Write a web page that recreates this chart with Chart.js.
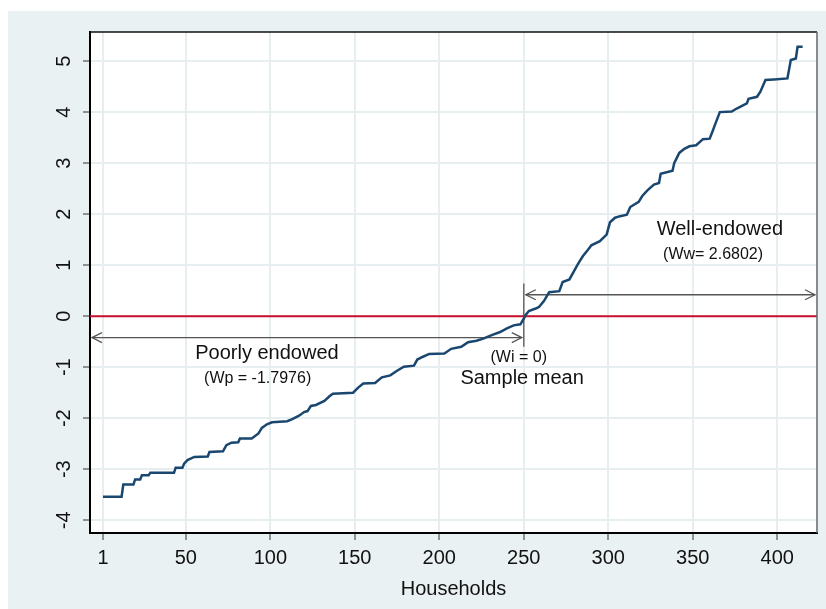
<!DOCTYPE html>
<html>
<head>
<meta charset="utf-8">
<script src="https://cdn.jsdelivr.net/npm/chart.js@4.4.1/dist/chart.umd.min.js"></script>
<style>
    html, body { margin: 0; padding: 0; background: #ffffff; }
    #wrap { width: 826px; height: 609px; }
</style>
</head>
<body>
<div id="wrap"><canvas id="chart" width="826" height="609"></canvas></div>
<script>
// household rank (sorted) and its index value, read at the ends of each plateau
const households = [
    1, 12, 13, 19, 20, 23, 24, 28, 29, 43,
    44, 48, 49, 51, 55, 63, 64, 72, 74, 77,
    81, 82, 89, 93, 95, 98, 101, 110, 113, 117,
    120, 122, 124, 127, 132, 135, 137, 149, 152, 155,
    162, 166, 171, 175, 179, 185, 187, 190, 194, 203,
    207, 213, 217, 222, 226, 231, 236, 240, 244, 248,
    250, 251, 253, 257, 259, 262, 265, 271, 273, 277,
    282, 285, 288, 290, 295, 299, 301, 304, 307, 311,
    313, 318, 320, 323, 327, 330, 331, 338, 339, 342,
    345, 348, 352, 356, 360, 362, 363, 366, 373, 376,
    382, 383, 388, 390, 393, 398, 406, 408, 411, 412,
    415
];
const scores = [
    -3.54, -3.54, -3.30, -3.30, -3.20, -3.20, -3.12, -3.12, -3.07, -3.07,
    -2.97, -2.97, -2.89, -2.82, -2.76, -2.75, -2.66, -2.65, -2.53, -2.48,
    -2.47, -2.40, -2.40, -2.30, -2.19, -2.12, -2.08, -2.06, -2.02, -1.95,
    -1.88, -1.86, -1.76, -1.74, -1.66, -1.57, -1.52, -1.50, -1.40, -1.32,
    -1.31, -1.20, -1.16, -1.07, -0.99, -0.97, -0.85, -0.80, -0.74, -0.73,
    -0.64, -0.60, -0.51, -0.48, -0.44, -0.37, -0.31, -0.24, -0.18, -0.16,
    -0.05, 0.02, 0.10, 0.15, 0.18, 0.30, 0.47, 0.49, 0.67, 0.72,
    1.02, 1.18, 1.30, 1.39, 1.47, 1.60, 1.84, 1.93, 1.96, 1.99,
    2.14, 2.24, 2.35, 2.46, 2.58, 2.61, 2.79, 2.85, 3.00, 3.20,
    3.28, 3.33, 3.35, 3.47, 3.48, 3.65, 3.74, 4.00, 4.01, 4.07,
    4.17, 4.26, 4.30, 4.40, 4.63, 4.64, 4.66, 5.02, 5.05, 5.28,
    5.28
];
const xTicks = [1, 50, 100, 150, 200, 250, 300, 350, 400];
const yTicks = [-4, -3, -2, -1, 0, 1, 2, 3, 4, 5];

const sampleMean = 250;
const notes = [
    { text: 'Poorly endowed', x: 98, y: -0.74, size: 20 },
    { text: '(Wp = -1.7976)', x: 92.5, y: -1.22, size: 16 },
    { text: '(Wi = 0)', x: 247, y: -0.82, size: 16 },
    { text: 'Sample mean', x: 249, y: -1.22, size: 20 },
    { text: 'Well-endowed', x: 366, y: 1.70, size: 20 },
    { text: '(Ww= 2.6802)', x: 362, y: 1.20, size: 16 },
];

const FONT = '"Liberation Sans", Arial, sans-serif';

function arrowHead(ctx, x, y, dir) {
    ctx.beginPath();
    ctx.moveTo(x - dir * 10, y - 5);
    ctx.lineTo(x, y);
    ctx.lineTo(x - dir * 10, y + 5);
    ctx.stroke();
}

const framePlugin = {
    id: 'frame',
    beforeDraw(chart) {
        const { ctx, chartArea: a } = chart;
        ctx.save();
        ctx.fillStyle = '#ffffff';
        ctx.fillRect(0, 0, chart.width, chart.height);
        ctx.fillStyle = '#eaf1f3';
        ctx.fillRect(8, 11, chart.width - 8, chart.height - 11);
        ctx.fillStyle = '#ffffff';
        ctx.fillRect(a.left, a.top, a.right - a.left, a.bottom - a.top);
        ctx.restore();
    },
    beforeDatasetsDraw(chart) {
        const { ctx, chartArea: a, scales: { x, y } } = chart;
        ctx.save();

        // zero line
        const y0 = y.getPixelForValue(0);
        ctx.strokeStyle = '#c8102e';
        ctx.lineWidth = 2;
        ctx.beginPath();
        ctx.moveTo(a.left, y0);
        ctx.lineTo(a.right, y0);
        ctx.stroke();

        // sample mean marker and the two ranges
        const xm = x.getPixelForValue(sampleMean);
        ctx.strokeStyle = '#555555';
        ctx.lineWidth = 1.3;
        ctx.beginPath();
        ctx.moveTo(xm, y.getPixelForValue(0.64));
        ctx.lineTo(xm, y.getPixelForValue(-0.6));
        ctx.stroke();

        const yl = y.getPixelForValue(-0.42);
        const yr = y.getPixelForValue(0.42);
        ctx.beginPath();
        ctx.moveTo(a.left + 2, yl);
        ctx.lineTo(xm - 2, yl);
        ctx.moveTo(xm + 2, yr);
        ctx.lineTo(a.right - 2, yr);
        ctx.stroke();
        arrowHead(ctx, a.left + 2, yl, -1);
        arrowHead(ctx, xm - 2, yl, 1);
        arrowHead(ctx, xm + 2, yr, -1);
        arrowHead(ctx, a.right - 2, yr, 1);

        ctx.fillStyle = '#111111';
        ctx.textAlign = 'center';
        ctx.textBaseline = 'middle';
        notes.forEach((n) => {
            ctx.font = `${n.size}px ${FONT}`;
            ctx.fillText(n.text, x.getPixelForValue(n.x), y.getPixelForValue(n.y));
        });
        ctx.restore();
    },
    afterDraw(chart) {
        const { ctx, chartArea: a } = chart;
        ctx.save();
        ctx.lineWidth = 1.5;
        ctx.strokeStyle = '#111111';
        ctx.beginPath();
        ctx.moveTo(a.left, a.top);
        ctx.lineTo(a.right, a.top);
        ctx.stroke();
        ctx.strokeStyle = '#666666';
        ctx.beginPath();
        ctx.moveTo(a.right, a.top);
        ctx.lineTo(a.right, a.bottom);
        ctx.stroke();
        ctx.restore();
    },
};

new Chart(document.getElementById('chart'), {
    type: 'line',
    data: {
        datasets: [{
            data: households.map((h, i) => ({ x: h, y: scores[i] })),
            borderColor: '#1a476f',
            borderWidth: 2.5,
            pointRadius: 0,
            tension: 0,
            fill: false,
        }],
    },
    options: {
        responsive: false,
        animation: false,
        devicePixelRatio: 1,
        layout: { padding: { top: 32, right: 9, left: 0, bottom: 0 } },
        plugins: { legend: { display: false }, tooltip: { enabled: false } },
        scales: {
            x: {
                type: 'linear',
                min: -6.7,
                max: 423.5,
                afterBuildTicks(scale) {
                    scale.ticks = xTicks.map((v) => ({ value: v }));
                },
                afterFit(scale) {
                    scale.height = 76;
                },
                grid: { color: '#e6eef0', lineWidth: 2, tickLength: 7, tickColor: '#333333', tickWidth: 1 },
                border: { display: true, color: '#000000', width: 2 },
                ticks: { color: '#111111', font: { family: FONT, size: 20 }, padding: 6, maxRotation: 0 },
                title: {
                    display: true,
                    text: 'Households',
                    color: '#111111',
                    font: { family: FONT, size: 20 },
                    padding: { top: 0, bottom: 8 },
                },
            },
            y: {
                type: 'linear',
                min: -4.25,
                max: 5.57,
                afterBuildTicks(scale) {
                    scale.ticks = yTicks.map((v) => ({ value: v }));
                },
                afterFit(scale) {
                    scale.width = 90;
                },
                grid: { color: '#e6eef0', lineWidth: 2, tickLength: 7, tickColor: '#333333', tickWidth: 1 },
                border: { display: true, color: '#000000', width: 2 },
                ticks: {
                    color: '#111111',
                    font: { family: FONT, size: 20 },
                    padding: 10,
                    minRotation: 90,
                    maxRotation: 90,
                    crossAlign: 'center',
                },
            },
        },
    },
    plugins: [framePlugin],
});
</script>
</body>
</html>
